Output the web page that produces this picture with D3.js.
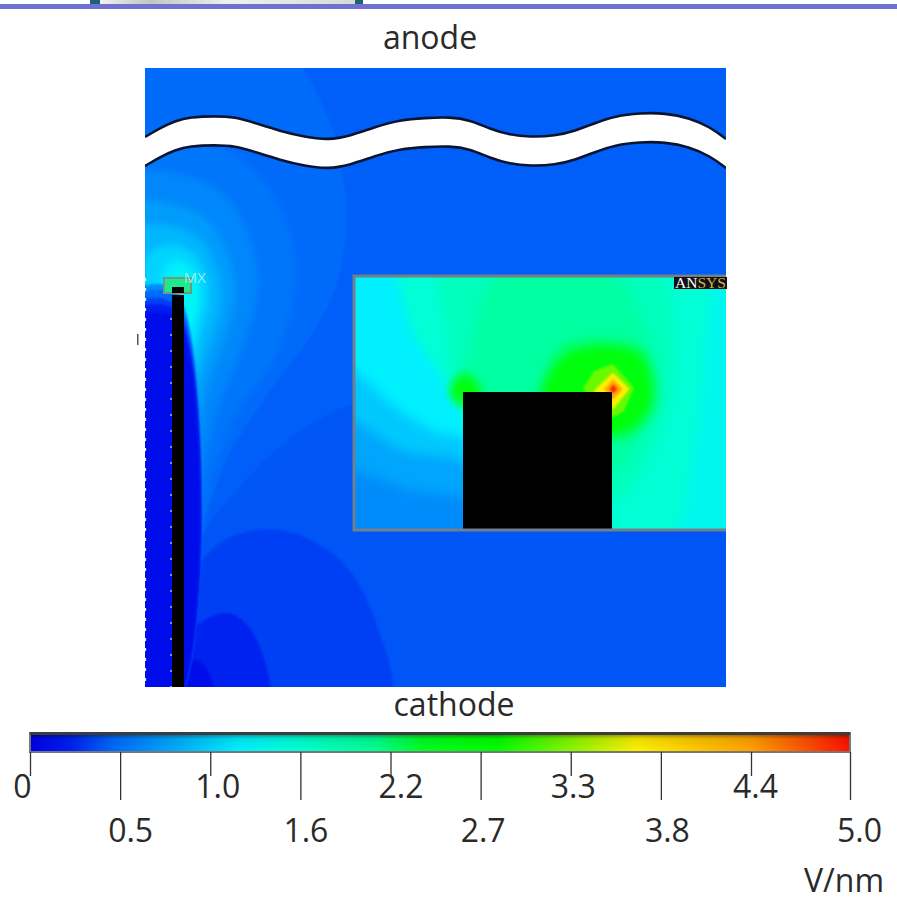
<!DOCTYPE html>
<html>
<head>
<meta charset="utf-8">
<script src="https://cdn.jsdelivr.net/npm/d3@7"></script>
<style>
	html, body { margin: 0; padding: 0; background: #fff; }
	svg { display: block; }
	text { font-family: "Open Sans", sans-serif; fill: #2a2a2a; }
</style>
</head>
<body>
<svg width="897" height="914"></svg>
<script>
// colour bar, V/nm
const colorValues = [0, 0.25, 0.5, 1.28, 1.6, 2.1, 2.4, 2.85, 3.7, 4.4, 5];
const colorStops = ["#0000e8", "#0020f0", "#0068fa", "#00f0ff", "#00ffd8", "#00ff90", "#00ff20", "#00ff00", "#fff000", "#ffa000", "#ff1000"];
const tickLabels = ["0", "0.5", "1.0", "1.6", "2.2", "2.7", "3.3", "3.8", "4.4", "5.0"];

// field contours of the full model: [value, outline]
const fieldBase = 0.47;
const fieldLevels = [
	[0.43, [[215, 335], [168, 355], [128, 385], [95, 419], [62, 459], [39, 510], [30, 650], [620, 650], [620, 335]]],
	[0.52, [[-20, -20], [135, -20], [180, 42], [197, 102], [201, 162], [190, 222], [165, 269], [128, 319], [85, 385], [62, 442], [45, 472], [39, 502], [-20, 502]]],
	[0.36, [[30, 545], [75, 475], [135, 462], [195, 492], [230, 552], [243, 640], [30, 640]]],
	[0.25, [[30, 580], [55, 555], [83, 545], [108, 565], [122, 640], [30, 640]]],
	[0.10, [[30, 600], [52, 592], [63, 603], [69, 640], [30, 640]]],
	[0.58, [[-20, 70], [40, 70], [95, 90], [140, 150], [150, 217], [130, 290], [92, 345], [66, 410], [46, 480], [-20, 480]]],
	[0.68, [[-20, 110], [40, 108], [80, 128], [105, 172], [112, 222], [98, 278], [74, 335], [58, 395], [42, 450], [-20, 450]]],
	[0.80, [[-20, 140], [35, 138], [65, 155], [84, 190], [90, 228], [80, 272], [62, 320], [50, 375], [40, 420], [-20, 420]]],
	[0.95, [[-20, 165], [35, 160], [58, 175], [72, 202], [76, 232], [68, 268], [54, 308], [44, 350], [-20, 350]]],
	[1.12, [[5, 185], [35, 178], [52, 190], [62, 212], [63, 238], [55, 268], [45, 300], [5, 300]]],
	[1.25, [[20, 198], [35, 192], [48, 203], [54, 224], [51, 250], [44, 278], [20, 278]]],
	[1.38, [[25, 208], [38, 200], [50, 210], [53, 230], [48, 252], [40, 262], [25, 245]]],
	[0.70, [[-20, 230], [30, 222], [30, 640], [-20, 640]]],
	[0.52, [[-20, 236], [30, 228], [30, 640], [-20, 640]]],
	[0.36, [[-20, 243], [30, 236], [30, 640], [-20, 640]]],
	[0.22, [[-20, 250], [30, 242], [30, 640], [-20, 640]]],
	[0.10, [[-20, 258], [30, 250], [30, 640], [-20, 640]]]
];

// zoomed view of the tip
const insetBase = 1.42;
const insetLevels = [
	[1.62, [[40, -10], [345, -10], [350, 80], [340, 170], [315, 265], [250, 265], [100, 150], [70, 90]]],
	[1.80, [[90, -10], [300, -10], [320, 60], [315, 130], [285, 200], [260, 225], [240, 160], [110, 125], [95, 60]]],
	[1.98, [[150, -10], [250, -10], [290, 50], [300, 110], [285, 165], [258, 195], [200, 130], [105, 125], [115, 80]]],
	[1.28, [[-20, -20], [30, -20], [60, 60], [100, 120], [112, 150], [112, 265], [-20, 265]]],
	[1.05, [[-20, 85], [40, 130], [80, 155], [112, 165], [112, 265], [-20, 265]]],
	[0.85, [[-20, 140], [50, 175], [112, 190], [112, 265], [-20, 265]]],
	[0.70, [[-20, 195], [60, 215], [112, 225], [112, 265], [-20, 265]]],
	[2.20, [[190, 94], [210, 68], [249, 62], [288, 70], [304, 104], [300, 138], [276, 162], [255, 165], [185, 125]]],
	[2.75, [[199, 94], [216, 77], [249, 71], [283, 77], [296, 104], [293, 134], [273, 154], [255, 157], [190, 125]]],
	[2.20, [[94, 116], [108, 95], [125, 104], [130, 120], [110, 133]]],
	[2.75, [[99, 114], [109, 101], [121, 107], [124, 118], [109, 127]]]
];
const insetHot = [
	[3.20, [[229, 113], [240, 95], [259, 88], [280, 112], [270, 135], [258, 142]]],
	[3.70, [[240, 115], [259, 97], [275, 113], [259, 133]]],
	[4.30, [[250, 113], [259, 103], [269, 113], [259, 124]]],
	[4.90, [[255, 113], [259, 108], [264, 113], [259, 118]]]
];

// the anode sheet, upper edge and the width of the gap
const anodeEdge = [[0, 69], [15, 60], [30, 53], [45, 49], [70, 48], [90, 49], [110, 55], [135, 63], [160, 69], [183, 72], [205, 68], [230, 59], [255, 52], [280, 50], [305, 49], [325, 52], [345, 61], [365, 67], [385, 69], [410, 68], [430, 63], [450, 55], [470, 48], [495, 45], [520, 45], [545, 50], [565, 59], [581, 71]];
const anodeWidth = 29;

// colour bar tick placement along the index of each tick, and label offsets
const tickIndex = [0, 8, 9];
const tickPixels = [30, 751, 850];
const labelNudge = [-8, 10, 7, 5, 10, 2, 2, 6, 4, 9];

let svg = d3.select("svg");

let color = d3.scaleLinear().domain(colorValues).range(colorStops);

// plot placement
let x = d3.scaleLinear().domain([0, 581]).range([145, 726]);
let y = d3.scaleLinear().domain([0, 619]).range([68, 687]);
let ix = d3.scaleLinear().domain([0, 372]).range([354, 726]);
let iy = d3.scaleLinear().domain([0, 254]).range([276, 530]);

let defs = svg.append("defs");
[["soft", 1.3], ["mid", 3.5], ["wide", 6]].forEach(function(f) {
	defs.append("filter").attr("id", f[0])
		.attr("filterUnits", "userSpaceOnUse")
		.attr("x", 0).attr("y", 0).attr("width", 897).attr("height", 914)
		.append("feGaussianBlur").attr("stdDeviation", f[1]);
});
defs.append("clipPath").attr("id", "plot-clip").append("rect")
	.attr("x", x(0)).attr("y", y(0)).attr("width", x(581) - x(0)).attr("height", y(619) - y(0));
defs.append("clipPath").attr("id", "inset-clip").append("rect")
	.attr("x", ix(0)).attr("y", iy(0)).attr("width", ix(372) - ix(0)).attr("height", iy(254) - iy(0));

// header strip left over from the slide
let grad_head = defs.append("linearGradient").attr("id", "head");
grad_head.append("stop").attr("offset", "0%").attr("stop-color", "#f4f4f4");
grad_head.append("stop").attr("offset", "20%").attr("stop-color", "#c4c4c4");
grad_head.append("stop").attr("offset", "50%").attr("stop-color", "#f0f0f0");
grad_head.append("stop").attr("offset", "100%").attr("stop-color", "#d8d8d8");
svg.append("rect").attr("x", 97).attr("y", 0).attr("width", 265).attr("height", 4).attr("fill", "url(#head)");
svg.append("rect").attr("x", 90).attr("y", 0).attr("width", 10).attr("height", 4).attr("fill", "#1f5f78");
svg.append("rect").attr("x", 355).attr("y", 0).attr("width", 8).attr("height", 4).attr("fill", "#1f5f78");
svg.append("rect").attr("x", 0).attr("y", 4).attr("width", 897).attr("height", 5).attr("fill", "#7070d2");

let contour = function(sx, sy, curve) {
	return d3.line()
		.x(function(d) { return sx(d[0]); })
		.y(function(d) { return sy(d[1]); })
		.curve(curve);
};
let smooth = d3.curveCatmullRomClosed.alpha(0.5);

// main field
let plot = svg.append("g").attr("clip-path", "url(#plot-clip)");
plot.append("rect")
	.attr("x", x(0)).attr("y", y(0)).attr("width", x(581) - x(0)).attr("height", y(619) - y(0))
	.attr("fill", color(fieldBase));
plot.append("g")
	.selectAll("path")
	.data(fieldLevels)
	.enter()
	.append("path")
	.attr("d", function(d) { return contour(x, y, smooth)(d[1]); })
	.attr("fill", function(d) { return color(d[0]); })
	.attr("filter", function(d) { return d[0] >= 0.58 && d[1][0][1] < 220 ? "url(#mid)" : "url(#soft)"; });

// anode gap
let edge = contour(x, y, d3.curveBasis);
let lower = anodeEdge.map(function(d) { return [d[0], d[1] + anodeWidth]; });
plot.append("path")
	.attr("d", edge(anodeEdge) + "L" + edge(lower.slice().reverse()).slice(1) + "Z")
	.attr("fill", "#fff");
[anodeEdge, lower].forEach(function(line) {
	plot.append("path")
		.attr("d", edge(line))
		.attr("fill", "none")
		.attr("stroke", "#0a1430")
		.attr("stroke-width", 2.6);
});

// emitter
plot.append("rect").attr("x", x(19)).attr("y", y(210)).attr("width", 27).attr("height", 15)
	.attr("fill", "#20e890").attr("stroke", "#6f9a80").attr("stroke-width", 2);
plot.append("rect").attr("x", x(27)).attr("y", y(219)).attr("width", 12).attr("height", 6).attr("fill", "#000");
plot.append("rect").attr("x", x(27)).attr("y", y(227)).attr("width", 12).attr("height", y(619) - y(227)).attr("fill", "#000");
plot.append("line")
	.attr("x1", x(26)).attr("x2", x(26)).attr("y1", y(250)).attr("y2", y(619))
	.attr("stroke", "#cfd4ff").attr("stroke-width", 1.3).attr("stroke-dasharray", "2 14");
plot.append("line")
	.attr("x1", x(0.5)).attr("x2", x(0.5)).attr("y1", y(210)).attr("y2", y(619))
	.attr("stroke", "#e6ecff").attr("stroke-width", 1.3).attr("stroke-dasharray", "3 7");
svg.append("text").attr("x", x(39)).attr("y", y(215)).attr("font-size", 15)
	.attr("opacity", 0.75).style("fill", "#c8f4ff").text("MX");
svg.append("rect").attr("x", 137).attr("y", 334).attr("width", 1.5).attr("height", 11).attr("fill", "#555");

// zoomed inset
let inset = svg.append("g").attr("clip-path", "url(#inset-clip)");
inset.append("rect")
	.attr("x", ix(0)).attr("y", iy(0)).attr("width", ix(372) - ix(0)).attr("height", iy(254) - iy(0))
	.attr("fill", color(insetBase));
inset.append("g")
	.selectAll("path")
	.data(insetLevels)
	.enter()
	.append("path")
	.attr("d", function(d) { return contour(ix, iy, smooth)(d[1]); })
	.attr("fill", function(d) { return color(d[0]); })
	.attr("filter", function(d) { return d[0] >= 2.2 ? "url(#mid)" : "url(#wide)"; });
inset.append("g").attr("filter", "url(#soft)")
	.selectAll("path")
	.data(insetHot)
	.enter()
	.append("path")
	.attr("d", function(d) { return contour(ix, iy, d3.curveLinearClosed)(d[1]); })
	.attr("fill", function(d) { return color(d[0]); });
inset.append("rect")
	.attr("x", ix(109)).attr("y", iy(116)).attr("width", ix(258) - ix(109)).attr("height", iy(254) - iy(116))
	.attr("fill", "#000");
svg.append("path")
	.attr("d", "M" + ix(372) + "," + iy(0) + "H" + ix(0) + "V" + iy(254) + "H" + ix(372))
	.attr("fill", "none").attr("stroke", "#70808c").attr("stroke-width", 3);

// ANSYS tag
svg.append("rect").attr("x", 674).attr("y", 277).attr("width", 53).attr("height", 12).attr("fill", "#111");
let tag = svg.append("text").attr("x", 675).attr("y", 288)
	.attr("textLength", 51).attr("lengthAdjust", "spacingAndGlyphs")
	.style("font-family", "'Liberation Serif', serif").style("font-size", "14px");
tag.append("tspan").style("fill", "#fff").text("AN");
tag.append("tspan").style("fill", "#d9b24a").text("SYS");

// captions
svg.append("text").attr("x", 430).attr("y", 49).attr("text-anchor", "middle").attr("font-size", 32).text("anode");
svg.append("text").attr("x", 454).attr("y", 716).attr("text-anchor", "middle").attr("font-size", 32).text("cathode");

// colour bar
let bar = d3.scaleLinear().domain([0, 5]).range([30, 850]);
let tickX = d3.scaleLinear().domain(tickIndex).range(tickPixels);
let ticks = d3.scaleOrdinal().domain(tickLabels).range(tickLabels.map(function(d, i) { return tickX(i); }));

let grad = defs.append("linearGradient").attr("id", "bar-colors");
grad.selectAll("stop")
	.data(colorValues)
	.enter()
	.append("stop")
	.attr("offset", function(d) { return (bar(d) - bar(0)) / (bar(5) - bar(0)); })
	.attr("stop-color", function(d) { return color(d); });

let shade = defs.append("linearGradient").attr("id", "bar-shade").attr("x2", 0).attr("y2", 1);
shade.append("stop").attr("offset", "0%").attr("stop-color", "#000").attr("stop-opacity", 0.4);
shade.append("stop").attr("offset", "30%").attr("stop-color", "#000").attr("stop-opacity", 0.08);
shade.append("stop").attr("offset", "100%").attr("stop-color", "#000").attr("stop-opacity", 0);

svg.append("rect").attr("x", bar(0)).attr("y", 733).attr("width", bar(5) - bar(0)).attr("height", 19)
	.attr("fill", "url(#bar-colors)").attr("stroke", "#777").attr("stroke-width", 2);
svg.append("rect").attr("x", bar(0) + 1).attr("y", 734).attr("width", bar(5) - bar(0) - 2).attr("height", 16)
	.attr("fill", "url(#bar-shade)");
svg.append("rect").attr("x", bar(0)).attr("y", 732).attr("width", bar(5) - bar(0)).attr("height", 3).attr("fill", "#3c3c3c");

let axis = svg.append("g")
	.attr("transform", "translate(0,752)")
	.call(d3.axisBottom(ticks).tickSize(48).tickPadding(0));
axis.select(".domain").remove();
axis.selectAll("line")
	.attr("stroke", "#333")
	.attr("stroke-width", 1.3)
	.attr("y2", function(d, i) { return i % 2 ? 48 : 24; });
axis.selectAll("text")
	.attr("font-size", 32)
	.attr("font-family", null)
	.attr("dy", null)
	.attr("x", function(d, i) { return labelNudge[i]; })
	.attr("y", function(d, i) { return i % 2 ? 90 : 46; });

svg.append("text").attr("x", 884).attr("y", 892).attr("text-anchor", "end").attr("font-size", 32).text("V/nm");
</script>
</body>
</html>
